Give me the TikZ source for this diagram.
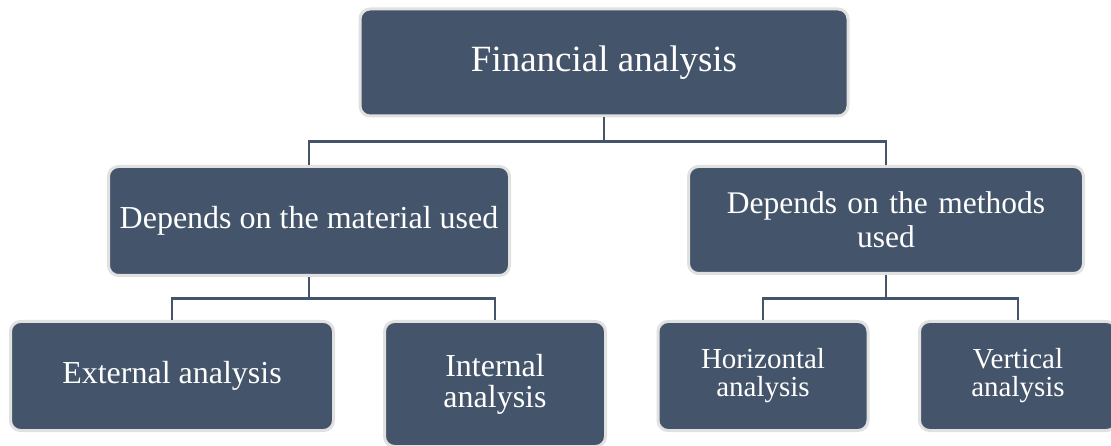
\documentclass[tikz,border=0pt]{standalone}
\usepackage{fontspec}
\setmainfont{Liberation Serif}
\usepackage{tikz}
\usetikzlibrary{positioning}
\usetikzlibrary{calc}

\definecolor{slate}{HTML}{44546A}
\definecolor{rim}{HTML}{E1E1E1}

\begin{document}
\begin{tikzpicture}[x=1pt, y=-1pt,
    box/.style={draw=rim, line width=3pt, fill=slate, rounded corners=10pt,
                text=white, align=center, inner sep=4pt},
    wire/.style={draw=slate, line width=2.5pt}]

    \useasboundingbox (0, 0) rectangle (1111, 446);

    % Root
    \node[box, minimum width=488pt, minimum height=107pt,
          font=\fontsize{37}{40}\selectfont] (fin) at (604, 62.5) {Financial analysis};

    % Second level
    \node[box, minimum width=401pt, minimum height=109pt,
          font=\fontsize{32}{34}\selectfont] (mat) at (309, 221) {Depends on the material used};
    \node[box, minimum width=395pt, minimum height=107pt, text width=370pt,
          font=\fontsize{31.5}{34}\selectfont] (meth) at (886, 220) {Depends on the methods\\used};

    % Third level
    \node[box, minimum width=323pt, minimum height=109pt,
          font=\fontsize{32}{34}\selectfont] (ext) at (172, 376) {External analysis};
    \node[box, minimum width=221pt, minimum height=125pt,
          font=\fontsize{32}{31}\selectfont] (int) at (495, 384) {Internal\\analysis};
    \node[box, minimum width=210pt, minimum height=109pt,
          font=\fontsize{29}{28}\selectfont] (hor) at (763, 376) {Horizontal\\analysis};
    \node[box, minimum width=197pt, minimum height=109pt,
          font=\fontsize{29}{28}\selectfont] (ver) at (1018, 376) {Vertical\\analysis};

    % Connectors
    \draw[wire] (fin.south) -- ++(0, 24) coordinate(b0) -| (mat.north);
    \draw[wire] (b0) -| (meth.north);

    \draw[wire] (mat.south) -- ($(mat.south)!.5!(mat.south |- ext.north)$) coordinate(b1) -| (ext.north);
    \draw[wire] (b1) -| (int.north);

    \draw[wire] (meth.south) -- (meth.south |- b1) coordinate(b2) -| (hor.north);
    \draw[wire] (b2) -| (ver.north);

\end{tikzpicture}
\end{document}
